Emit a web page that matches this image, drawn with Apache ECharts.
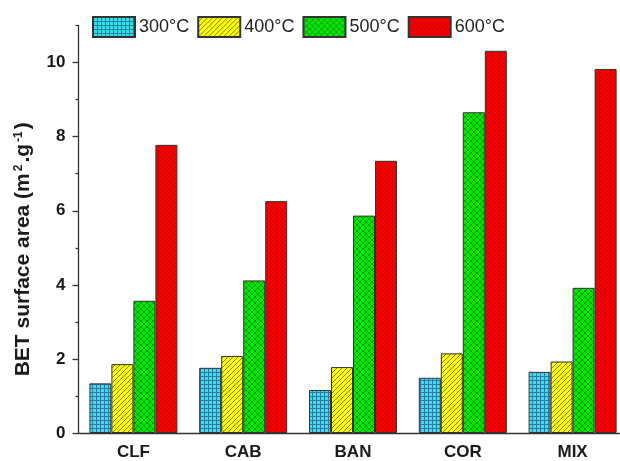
<!DOCTYPE html>
<html><head><meta charset="utf-8">
<script src="https://cdn.jsdelivr.net/npm/echarts@6/dist/echarts.min.js"></script>
<style>html,body{margin:0;padding:0;background:#fff;overflow:hidden}#c{width:630px;height:461px}</style>
</head><body><div id="c"></div>
<script>
const categories = ['CLF','CAB','BAN','COR','MIX'];
const seriesNames = ['300°C','400°C','500°C','600°C'];
const s300 = [1.34, 1.76, 1.16, 1.49, 1.65];
const s400 = [1.86, 2.08, 1.78, 2.15, 1.93];
const s500 = [3.57, 4.12, 5.87, 8.66, 3.92];
const s600 = [7.78, 6.26, 7.35, 10.32, 9.83];
const majorTicks = [0,2,4,6,8,10];
const minorTicks = [1,3,5,7,9,11];

function pat(bg, fg, kind, s) {
  const c = document.createElement('canvas');
  c.width = s; c.height = s;
  const g = c.getContext('2d');
  g.fillStyle = bg; g.fillRect(0,0,s,s);
  g.strokeStyle = fg; g.fillStyle = fg; g.lineWidth = 1;
  function line(x1,y1,x2,y2){ g.beginPath(); g.moveTo(x1,y1); g.lineTo(x2,y2); g.stroke(); }
  if (kind === 'grid') { g.fillRect(0,0,s,1); g.fillRect(0,0,1,s); }
  if (kind === 'fwd' || kind === 'cross') { line(-1,s+1,s+1,-1); line(-2,2,2,-2); line(s-2,s+2,s+2,s-2); }
  if (kind === 'back' || kind === 'cross') { line(-1,-1,s+1,s+1); line(-2,s-2,2,s+2); line(s-2,-2,s+2,2); }
  return {image: c, repeat: 'repeat'};
}
const fills = [
  pat('#38e0e4', '#2f78a8', 'grid', 4),
  pat('#ffff00', '#80801e', 'fwd', 5),
  pat('#00ea00', '#109a10', 'cross', 6),
  pat('#f80000', '#c40000', 'back', 4)
];
const data = [s300, s400, s500, s600];

const chart = echarts.init(document.getElementById('c'), null, {renderer: 'canvas'});
chart.setOption({
  animation: false,
  textStyle: {fontFamily: 'Liberation Sans, Arial, sans-serif'},
  legend: {
    top: 11, left: 87,
    itemWidth: 42, itemHeight: 20, itemGap: 8,
    icon: 'rect',
    textStyle: {fontSize: 18, color: '#222', padding: [0,0,0,-1]},
    data: seriesNames
  },
  grid: {left: 78.5, top: 25.6, width: 549, height: 408.1},
  xAxis: [{
    type: 'category', data: categories,
    axisLine: {lineStyle: {color: '#333', width: 1.3}},
    axisTick: {alignWithLabel: true, length: 7, lineStyle: {color: '#333', width: 1.3}},
    axisLabel: {fontSize: 17, fontWeight: 'bold', color: '#1a1a1a', margin: 11}
  }, {
    type: 'category', data: categories, position: 'bottom',
    axisLine: {show: false},
    axisTick: {length: 4, lineStyle: {color: '#333', width: 1.3}},
    axisLabel: {show: false}
  }],
  yAxis: [{
    type: 'value', min: 0, max: 11,
    name: 'BET surface area (m{sup|2}.g{sup|-1})',
    nameLocation: 'middle', nameGap: 44,
    nameTextStyle: {fontSize: 21, fontWeight: 'bold', color: '#1a1a1a', padding: [0, 40, 0, 0],
      rich: {sup: {fontSize: 12, fontWeight: 'bold', color: '#1a1a1a', verticalAlign: 'top', padding: [0,2,10,2]}}},
    axisLine: {show: true, lineStyle: {color: '#333', width: 1.3}},
    axisTick: {show: true, length: 6, customValues: majorTicks, lineStyle: {color: '#333', width: 1.3}},
    axisLabel: {fontSize: 17, fontWeight: 'bold', color: '#1a1a1a', margin: 13, customValues: majorTicks},
    splitLine: {show: false}
  }, {
    type: 'value', min: 0, max: 11, position: 'left',
    axisLine: {show: false},
    axisTick: {show: true, length: 3, customValues: minorTicks, lineStyle: {color: '#333', width: 1.3}},
    axisLabel: {show: false},
    splitLine: {show: false}
  }],
  series: seriesNames.map((n, i) => ({
    name: n, type: 'bar', data: data[i],
    barWidth: 22, barGap: '0%',
    itemStyle: {color: fills[i], borderColor: '#333', borderWidth: 1}
  }))
});
</script></body></html>
